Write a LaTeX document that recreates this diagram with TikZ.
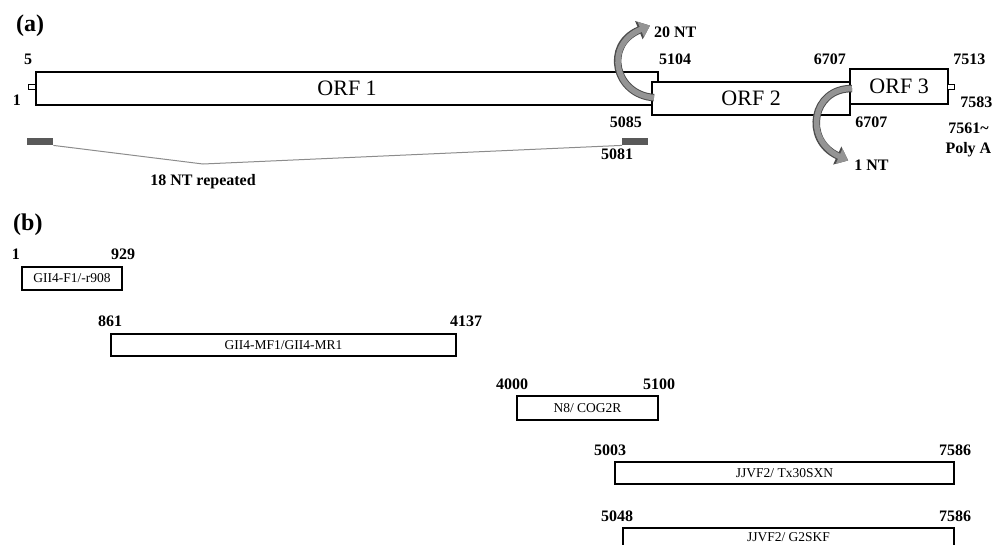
\documentclass[tikz,border=0pt]{standalone}
\usepackage{fontspec}
\setmainfont{Liberation Serif}
\usetikzlibrary{positioning,arrows.meta}

\begin{document}
\begin{tikzpicture}[x=1pt, y=-1pt,
    orf/.style={draw, line width=2.2pt, fill=white, inner sep=0pt, anchor=north west, font=\fontsize{22}{24}\selectfont},
    amplicon/.style={draw, line width=2pt, fill=white, inner sep=0pt, anchor=north west, font=\fontsize{13.5}{15}\selectfont},
    capbox/.style={draw, line width=1.4pt, fill=white, inner sep=0pt, minimum width=7pt, minimum height=5pt, anchor=north west},
    repbar/.style={fill=black!65, inner sep=0pt, minimum width=26pt, minimum height=7pt, anchor=north west},
    ntpos/.style={font=\bfseries\fontsize{16}{20}\selectfont, inner sep=0pt},
    panel/.style={font=\bfseries\fontsize{24}{26}\selectfont, inner sep=0pt, anchor=base west},
    shiftarrow/.style={line width=5.5pt, draw=black!42, shorten >=1pt, -{Triangle[length=10pt,width=16pt]},
        preaction={draw=black!70, line width=7.5pt, -{Triangle[length=12pt,width=19pt]}}}]

    \clip (0,0) rectangle (1001,544);

    % (a) genome
    \node [panel] (pa) at (16,31) {(a)};

    \node [orf, minimum width=622pt, minimum height=33pt] (orf1) at (35,71) {ORF 1};
    \node [orf, minimum width=198pt, minimum height=33pt] (orf2) at (651,81) {ORF 2};
    \node [orf, minimum width=98pt, minimum height=35pt] (orf3) at (849,68) {ORF 3};
    \node [capbox] (cap5) at (28,84) {};
    \node [capbox] (cap3) at (947,84) {};

    \node [ntpos, above=6pt of orf1.north west, xshift=-7pt] (n5) {5};
    \node [ntpos, above left=1pt and 14pt of orf1.south west] (n1a) {1};
    \node [ntpos, above=6pt of orf1.north east, xshift=16pt] (n5104) {5104};
    \node [ntpos, below left=0pt and 9pt of orf2.south west] (n5085) {5085};
    \node [ntpos, above left=3pt and 3pt of orf3.north west] (n6707a) {6707};
    \node [ntpos, below right=0pt and 4pt of orf2.south east] (n6707b) {6707};
    \node [ntpos, above right=3pt and 4pt of orf3.north east] (n7513) {7513};
    \node [ntpos, right=11pt of orf3.south east, yshift=2.5pt] (n7583) {7583};
    \node [ntpos, align=center, below=14pt of n7583, xshift=-8pt] (polya) {7561\textasciitilde\\Poly A};

    \node [ntpos, above=16pt of n5104] (nt20) {20 NT};
    \node [ntpos, below=32pt of n6707b] (nt1) {1 NT};

    % repeats
    \node [repbar] (rep1) at (27,138) {};
    \node [repbar] (rep2) at (622,138) {};
    \coordinate (dip) at (203,164);
    \draw [black!45, line width=1pt] (rep1.south east) -- (dip) -- (rep2.south west);
    \node [ntpos, below=3pt of rep2.south, xshift=-18pt] (n5081) {5081};
    \node [ntpos, below=10pt of dip] (rep18) {18 NT repeated};

    % shifts
    \draw [shiftarrow] ([xshift=3pt, yshift=1pt]orf2.west) .. controls (615,95) and (603,45) .. ([xshift=-3pt, yshift=7pt]nt20.west);
    \draw [shiftarrow] ([xshift=3pt, yshift=-2pt]orf3.west) .. controls (812,88) and (803,140) .. ([xshift=-5pt, yshift=4pt]nt1.west);

    % (b) amplicons
    \node [panel] (pb) at (13,230) {(b)};

    \node [amplicon, minimum width=100pt, minimum height=23pt] (amp1) at (21,266) {GII4-F1/-r908};
    \node [amplicon, minimum width=345pt, minimum height=22pt] (amp2) at (110,333) {GII4-MF1/GII4-MR1};
    \node [amplicon, minimum width=141pt, minimum height=24pt] (amp3) at (516,395) {N8/ COG2R};
    \node [amplicon, minimum width=339pt, minimum height=22pt] (amp4) at (614,461) {JJVF2/ Tx30SXN};
    \node [amplicon, minimum width=331pt, minimum height=19pt] (amp5) at (622,527) {JJVF2/ G2SKF};

    \node [ntpos, above=6pt of amp1.north west, xshift=-5pt] (b1) {1};
    \node [ntpos, above=6pt of amp1.north east] (b929) {929};
    \node [ntpos, above=6pt of amp2.north west] (b861) {861};
    \node [ntpos, above=6pt of amp2.north east, xshift=9pt] (b4137) {4137};
    \node [ntpos, above=5pt of amp3.north west, xshift=-4pt] (b4000) {4000};
    \node [ntpos, above=5pt of amp3.north east] (b5100) {5100};
    \node [ntpos, above=5pt of amp4.north west, xshift=-4pt] (b5003) {5003};
    \node [ntpos, above=5pt of amp4.north east] (b7586a) {7586};
    \node [ntpos, above=5pt of amp5.north west, xshift=-5pt] (b5048) {5048};
    \node [ntpos, above=5pt of amp5.north east] (b7586b) {7586};

\end{tikzpicture}
\end{document}
